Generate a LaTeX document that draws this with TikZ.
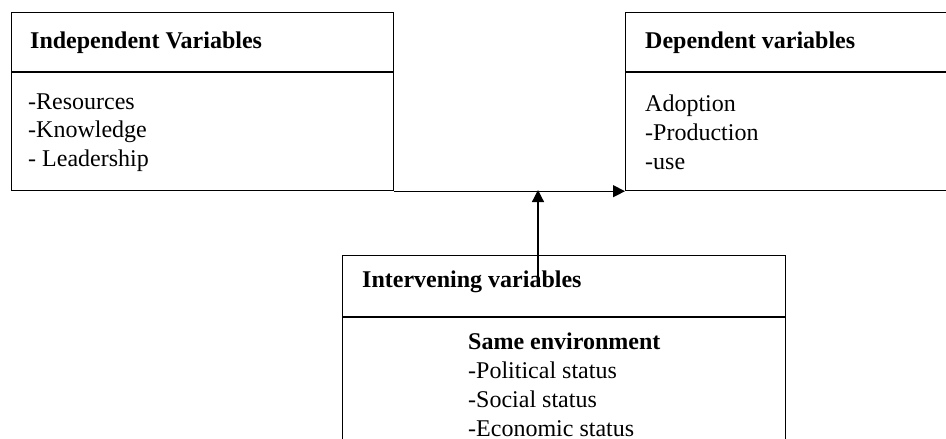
\documentclass[tikz,border=0pt]{standalone}
\usepackage{fontspec}
\setmainfont{Liberation Serif}
\usetikzlibrary{arrows.meta}

\begin{document}
\begin{tikzpicture}[x=1pt, y=-1pt,
	varbox/.style={draw, line width=1.2pt, rectangle, anchor=north west, inner sep=0pt},
	head/.style={anchor=base west, inner sep=0pt, font=\fontsize{24}{29}\selectfont\bfseries},
	item/.style={anchor=base west, inner sep=0pt, font=\fontsize{24}{29}\selectfont},
	link/.style={line width=1.2pt, -{Triangle[length=12pt, width=12pt]}}]

\useasboundingbox (0, 0) rectangle (946, 439);
\clip (0, 0) rectangle (946, 439); % limit img size

	% independent variables
	\node[varbox, minimum width=382pt, minimum height=178pt] (indep) at (11, 12) {};
	\draw[line width=1.2pt] (11, 72) to (393, 72);
	\node[head] (indephead) at (30, 48) {Independent Variables};
	\node[item] (res) at (28, 109) {-Resources};
	\node[item] (know) at (28, 137) {-Knowledge};
	\node[item] (lead) at (28, 166) {- Leadership};

	% dependent variables
	\node[varbox, minimum width=400pt, minimum height=178pt] (dep) at (625, 12) {};
	\draw[line width=1.2pt] (625, 72) to (1025, 72);
	\node[head] (dephead) at (645, 48) {Dependent variables};
	\node[item] (adopt) at (645, 111) {Adoption};
	\node[item] (prod) at (645, 140) {-Production};
	\node[item] (use) at (645, 169) {-use};

	% intervening variables
	\node[varbox, minimum width=443pt, minimum height=260pt] (interv) at (342, 255) {};
	\draw[line width=1.2pt] (342, 317) to (785, 317);
	\node[head] (intervhead) at (362, 287) {Intervening variables};
	\node[head] (env) at (468, 349) {Same environment};
	\node[item] (pol) at (468, 378) {-Political status};
	\node[item] (soc) at (468, 407) {-Social status};
	\node[item] (eco) at (468, 436) {-Economic status};

	% arrows
	\draw[link] (indep.south east) to (dep.south west);
	\coordinate (tail) at (538, 278);
	\coordinate (meet) at (538, 190);
	\draw[link] (tail) to (meet);

\end{tikzpicture}
\end{document}
